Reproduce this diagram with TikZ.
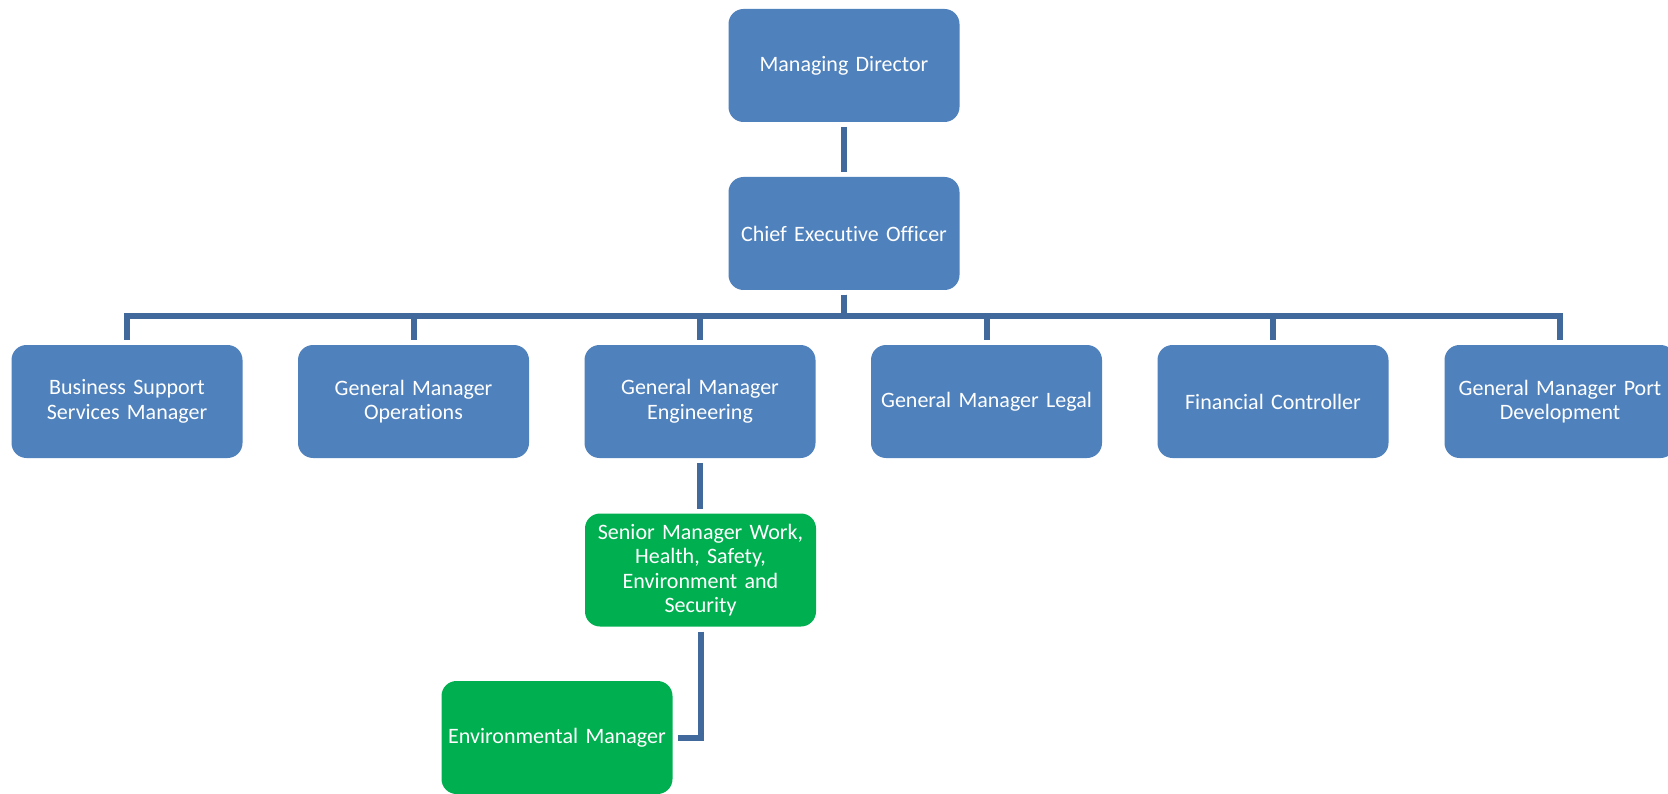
\documentclass[tikz,border=0pt]{standalone}
\usepackage{fontspec}
\setmainfont{Carlito}[Ligatures=NoCommon]
\definecolor{boxblue}{HTML}{4F81BD}
\definecolor{boxgreen}{HTML}{00B050}
\definecolor{linkblue}{HTML}{41699B}

\begin{document}
\begin{tikzpicture}[x=1pt, y=-1pt,
  role/.style={draw=none, shape=rectangle, rounded corners=15pt, fill=boxblue,
    minimum width=231pt, minimum height=113pt, text width=226pt, align=center,
    inner xsep=2pt, text=white, outer sep=5pt, font=\fontsize{22}{24.5}\selectfont},
  safety/.style={role, fill=boxgreen},
  link/.style={draw=linkblue, line width=6pt, line join=miter}]

\useasboundingbox (0,0) rectangle (1668,794);
\fill[white] (0,0) rectangle (1668,794);
\clip (0,0) rectangle (1668,794);

\node[role] (md) at (844,65.5) {Managing Director};
\node[role] (ceo) at (844,233.5) {Chief Executive Officer};

\node[role] (bssm) at (127,401.5) {Business Support\\Services Manager};
\node[role] (gmo) at (413.5,401.5) {General Manager\\Operations};
\node[role] (gme) at (700,401.5) {General Manager\\Engineering};
\node[role] (gml) at (986.5,401.5) {General Manager Legal};
\node[role] (fc) at (1273,401.5) {Financial Controller};
\node[role] (gmpd) at (1560,401.5) {General Manager Port\\Development};

\node[safety] (whs) at (700.5,570) {Senior Manager Work,\\Health, Safety,\\Environment and\\Security};
\node[safety] (env) at (557,737.5) {Environmental Manager};

\draw[link] (md) -- (ceo);

\draw[link] (ceo.south) -- ++(0,21) -| (bssm.north);
\draw[link] (ceo.south) -- ++(0,21) -| (gmo.north);
\draw[link] (ceo.south) -- ++(0,21) -| (gme.north);
\draw[link] (ceo.south) -- ++(0,21) -| (gml.north);
\draw[link] (ceo.south) -- ++(0,21) -| (fc.north);
\draw[link] (ceo.south) -- ++(0,21) -| (gmpd.north);

\draw[link] (gme.south) -- (gme.south |- whs.north);
\draw[link] (whs.south) |- (env.east);
\end{tikzpicture}
\end{document}
